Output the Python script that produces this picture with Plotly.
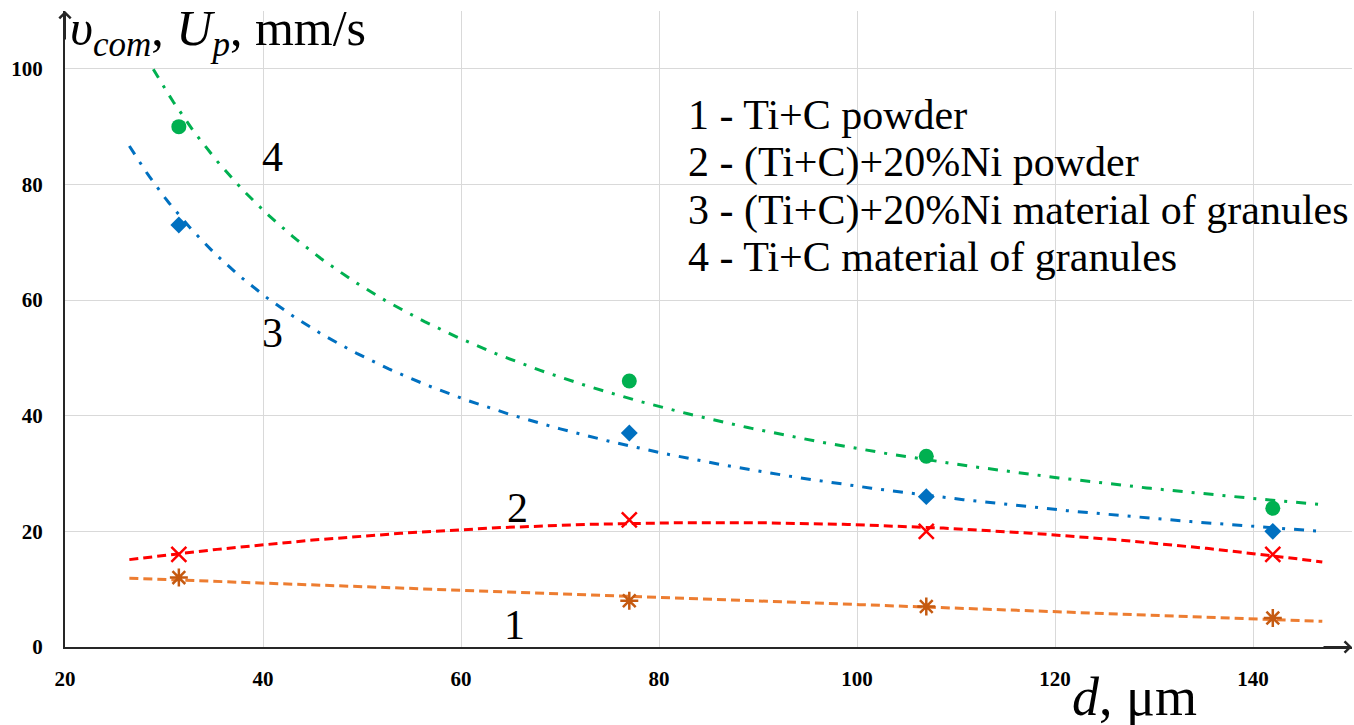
import numpy as np
import plotly.graph_objects as go

# ---------------- data ----------------
d_um = [31.5, 77, 107, 142]
ti_c_powder = [12, 8, 7, 5]                 # 1
ti_c_ni_powder = [16, 22, 20, 16]           # 2
ti_c_ni_granules = [73, 37, 26, 20]         # 3
ti_c_granules = [90, 46, 33, 24]            # 4

series_names = ["1 - Ti+C powder",
                "2 - (Ti+C)+20%Ni powder",
                "3 - (Ti+C)+20%Ni material of granules",
                "4 - Ti+C material of granules"]
curve_labels = ["1", "2", "3", "4"]
x_ticks = [20, 40, 60, 80, 100, 120, 140]
y_ticks = [0, 20, 40, 60, 80, 100]

# trendline extension (Excel-style forecast backward/forward)
TREND_BACK = 5
TREND_FWD = 5
Y_MAX_CLIP = 100

# ---------------- layout helpers ----------------
W, H = 1354, 725
ML, MR, MT, MB = 65, 2, 11, 78
PW, PH = W - ML - MR, H - MT - MB


def px(x):
    return (x - ML) / PW


def py(y):
    return (H - MB - y) / PH


SERIF = "Liberation Serif"

x = np.array(d_um, dtype=float)
xt = np.linspace(x.min() - TREND_BACK, x.max() + TREND_FWD, 300)


def linear_fit(y):
    c = np.polyfit(x, y, 1)
    return np.polyval(c, xt)


def poly2_fit(y):
    c = np.polyfit(x, y, 2)
    return np.polyval(c, xt)


def power_fit(y):
    b, ln_a = np.polyfit(np.log(x), np.log(np.array(y, dtype=float)), 1)
    yt = np.exp(ln_a) * xt ** b
    yt = np.where(yt <= Y_MAX_CLIP, yt, np.nan)
    return yt


fig = go.Figure()

specs = [
    (ti_c_powder, linear_fit, "#ED7D31", "9px,5px",
     dict(symbol="asterisk-open", size=15, color="#C55A11", line=dict(color="#C55A11", width=2.5))),
    (ti_c_ni_powder, poly2_fit, "#FF0000", "9px,5px",
     dict(symbol="x-thin-open", size=15, color="#FF0000", line=dict(color="#FF0000", width=2.5))),
    (ti_c_ni_granules, power_fit, "#0070C0", "10px,9px,3px,9px",
     dict(symbol="diamond", size=13, color="#0070C0")),
    (ti_c_granules, power_fit, "#00B050", "10px,9px,3px,9px",
     dict(symbol="circle", size=15, color="#00B050")),
]

for (yv, fit, col, dash, mk), name in zip(specs, series_names):
    fig.add_trace(go.Scatter(x=xt, y=fit(yv), mode="lines",
                             line=dict(color=col, width=3, dash=dash),
                             hoverinfo="skip", showlegend=False))
    fig.add_trace(go.Scatter(x=x, y=yv, mode="markers", marker=mk,
                             name=name, showlegend=False))

fig.update_layout(
    width=W, height=H,
    margin=dict(l=ML, r=MR, t=MT, b=MB),
    paper_bgcolor="white", plot_bgcolor="white",
    showlegend=False,
)

fig.update_xaxes(range=[20, 150], tickvals=x_ticks,
                 ticktext=[f"<b>{v}</b>" for v in x_ticks],
                 showgrid=True, gridcolor="#D9D9D9", gridwidth=1, zeroline=False,
                 showline=True, linecolor="#262626", linewidth=2,
                 ticks="", ticklabelstandoff=12,
                 tickfont=dict(family=SERIF, size=21, color="black"))
fig.update_yaxes(range=[0, 110], tickvals=y_ticks,
                 ticktext=[f"<b>{v}</b>" for v in y_ticks],
                 showgrid=True, gridcolor="#D9D9D9", gridwidth=1, zeroline=False,
                 showline=True, linecolor="#262626", linewidth=2,
                 ticks="", ticklabelstandoff=16,
                 tickfont=dict(family=SERIF, size=21, color="black"))

# axis arrowheads (open chevrons)
fig.add_annotation(x=20, y=110, xref="x", yref="y", ax=0, ay=30,
                   showarrow=True, arrowhead=4, arrowsize=1.1, arrowwidth=2,
                   arrowcolor="#262626", text="")
fig.add_annotation(x=150, y=0, xref="x", yref="y", ax=-30, ay=0,
                   showarrow=True, arrowhead=4, arrowsize=1.1, arrowwidth=2,
                   arrowcolor="#262626", text="")

# legend-like text block
legend_y = [115, 162, 210, 257]
for name, yy in zip(series_names, legend_y):
    fig.add_annotation(text=name, xref="paper", yref="paper", x=px(686), y=py(yy),
                       xanchor="left", yanchor="middle", showarrow=False,
                       font=dict(family=SERIF, size=42, color="black"))

# curve numbers
label_pos = [(514, 625), (517, 508), (272, 333), (272, 157)]
for lab, (lx, ly) in zip(curve_labels, label_pos):
    fig.add_annotation(text=lab, xref="paper", yref="paper", x=px(lx), y=py(ly),
                       xanchor="center", yanchor="middle", showarrow=False,
                       font=dict(family=SERIF, size=42, color="black"))

# axis titles
fig.add_annotation(text="<i>υ</i><sub><i>com</i></sub>, <i>U</i><sub><i>p</i></sub>, mm/s",
                   xref="paper", yref="paper", x=px(68), y=py(-2),
                   xanchor="left", yanchor="top", showarrow=False,
                   font=dict(family=SERIF, size=50, color="black"))
fig.add_annotation(text="<i>d</i>, μm",
                   xref="paper", yref="paper", x=px(1070), y=py(697),
                   xanchor="left", yanchor="middle", showarrow=False,
                   font=dict(family=SERIF, size=54, color="black"))

fig.write_html("out.html")
